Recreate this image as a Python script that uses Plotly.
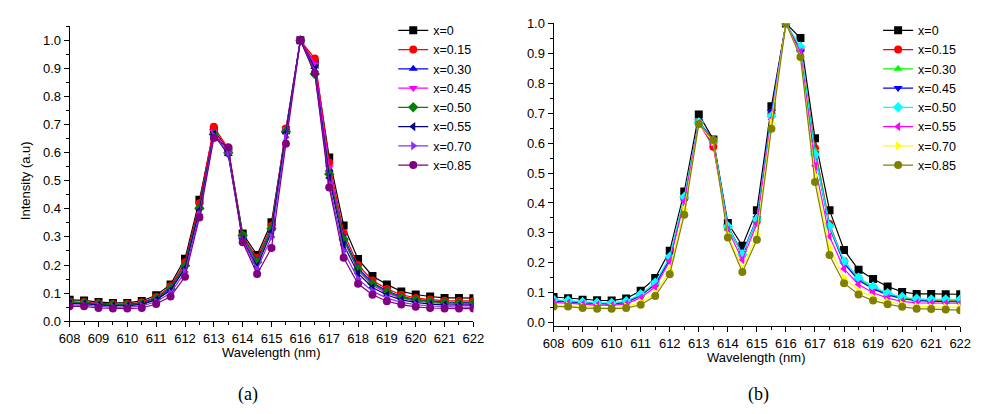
import plotly.graph_objects as go

# Wavelength grid (nm), sampled every 0.5 nm
wavelength = [608.0, 608.5, 609.0, 609.5, 610.0, 610.5, 611.0, 611.5, 612.0, 612.5,
              613.0, 613.5, 614.0, 614.5, 615.0, 615.5, 616.0, 616.5, 617.0, 617.5,
              618.0, 618.5, 619.0, 619.5, 620.0, 620.5, 621.0, 621.5, 622.0]

labels = ["x=0", "x=0.15", "x=0.30", "x=0.45", "x=0.50", "x=0.55", "x=0.70", "x=0.85"]

# Panel (a) normalised intensities
a_x000 = [0.076, 0.074, 0.068, 0.065, 0.065, 0.072, 0.092, 0.131, 0.222, 0.432, 0.680, 0.610, 0.312, 0.236, 0.352,
          0.680, 1.000, 0.920, 0.583, 0.341, 0.221, 0.161, 0.131, 0.106, 0.095, 0.088, 0.083, 0.083, 0.082]
a_x015 = [0.070, 0.068, 0.064, 0.061, 0.061, 0.067, 0.086, 0.124, 0.210, 0.420, 0.692, 0.615, 0.305, 0.225, 0.340,
          0.686, 1.000, 0.935, 0.565, 0.315, 0.200, 0.145, 0.115, 0.094, 0.083, 0.077, 0.073, 0.072, 0.072]
a_x030 = [0.068, 0.066, 0.062, 0.059, 0.059, 0.064, 0.082, 0.118, 0.200, 0.405, 0.670, 0.595, 0.300, 0.215, 0.330,
          0.678, 1.000, 0.907, 0.540, 0.300, 0.190, 0.137, 0.108, 0.088, 0.078, 0.072, 0.068, 0.067, 0.067]
a_x045 = [0.064, 0.063, 0.059, 0.056, 0.056, 0.061, 0.078, 0.112, 0.192, 0.398, 0.675, 0.605, 0.295, 0.205, 0.325,
          0.683, 1.000, 0.915, 0.547, 0.290, 0.180, 0.128, 0.100, 0.082, 0.072, 0.066, 0.062, 0.061, 0.061]
a_x050 = [0.066, 0.065, 0.061, 0.058, 0.058, 0.063, 0.080, 0.115, 0.198, 0.402, 0.665, 0.600, 0.305, 0.210, 0.330,
          0.675, 1.000, 0.880, 0.524, 0.290, 0.185, 0.133, 0.104, 0.085, 0.075, 0.069, 0.065, 0.064, 0.064]
a_x055 = [0.063, 0.062, 0.058, 0.055, 0.055, 0.060, 0.076, 0.110, 0.188, 0.395, 0.665, 0.592, 0.290, 0.195, 0.318,
          0.670, 1.000, 0.900, 0.510, 0.272, 0.170, 0.120, 0.093, 0.076, 0.067, 0.061, 0.058, 0.057, 0.057]
a_x070 = [0.058, 0.057, 0.053, 0.050, 0.050, 0.054, 0.069, 0.100, 0.175, 0.380, 0.660, 0.600, 0.285, 0.185, 0.300,
          0.655, 1.000, 0.890, 0.490, 0.250, 0.150, 0.107, 0.082, 0.067, 0.059, 0.054, 0.051, 0.050, 0.050]
a_x085 = [0.053, 0.053, 0.047, 0.045, 0.045, 0.047, 0.061, 0.088, 0.158, 0.369, 0.652, 0.619, 0.281, 0.168, 0.261,
          0.632, 1.000, 0.884, 0.476, 0.226, 0.133, 0.094, 0.071, 0.059, 0.051, 0.047, 0.045, 0.045, 0.045]

# Panel (b) normalised intensities
b_x000 = [0.086, 0.082, 0.077, 0.075, 0.074, 0.081, 0.107, 0.149, 0.240, 0.438, 0.696, 0.612, 0.333, 0.257, 0.376,
          0.723, 1.000, 0.951, 0.616, 0.376, 0.243, 0.177, 0.146, 0.121, 0.103, 0.096, 0.096, 0.095, 0.095]
b_x015 = [0.074, 0.071, 0.066, 0.064, 0.063, 0.069, 0.092, 0.130, 0.215, 0.415, 0.668, 0.588, 0.318, 0.228, 0.340,
          0.700, 1.000, 0.915, 0.583, 0.330, 0.205, 0.148, 0.118, 0.097, 0.083, 0.077, 0.074, 0.073, 0.073]
b_x030 = [0.075, 0.072, 0.067, 0.065, 0.064, 0.070, 0.093, 0.131, 0.218, 0.418, 0.670, 0.605, 0.320, 0.230, 0.345,
          0.695, 1.000, 0.910, 0.575, 0.325, 0.203, 0.146, 0.117, 0.096, 0.082, 0.076, 0.073, 0.072, 0.072]
b_x045 = [0.073, 0.070, 0.066, 0.063, 0.062, 0.068, 0.090, 0.128, 0.212, 0.412, 0.672, 0.612, 0.322, 0.232, 0.348,
          0.704, 1.000, 0.905, 0.565, 0.318, 0.198, 0.142, 0.113, 0.093, 0.080, 0.074, 0.071, 0.070, 0.070]
b_x050 = [0.077, 0.074, 0.069, 0.067, 0.066, 0.072, 0.095, 0.134, 0.220, 0.420, 0.670, 0.608, 0.322, 0.228, 0.345,
          0.690, 1.000, 0.922, 0.562, 0.322, 0.205, 0.150, 0.121, 0.099, 0.086, 0.080, 0.078, 0.078, 0.078]
b_x055 = [0.068, 0.066, 0.062, 0.059, 0.058, 0.063, 0.083, 0.120, 0.205, 0.405, 0.665, 0.595, 0.310, 0.210, 0.330,
          0.680, 1.000, 0.905, 0.524, 0.288, 0.180, 0.128, 0.100, 0.082, 0.071, 0.066, 0.065, 0.065, 0.065]
b_x070 = [0.058, 0.057, 0.053, 0.051, 0.050, 0.054, 0.068, 0.098, 0.175, 0.378, 0.662, 0.605, 0.295, 0.180, 0.295,
          0.669, 1.000, 0.890, 0.492, 0.250, 0.150, 0.108, 0.085, 0.070, 0.061, 0.055, 0.053, 0.052, 0.052]
b_x085 = [0.054, 0.054, 0.049, 0.047, 0.047, 0.049, 0.060, 0.089, 0.162, 0.361, 0.664, 0.610, 0.285, 0.169, 0.277,
          0.648, 1.000, 0.888, 0.470, 0.226, 0.132, 0.094, 0.074, 0.062, 0.053, 0.047, 0.046, 0.044, 0.042]

panel_a = [a_x000, a_x015, a_x030, a_x045, a_x050, a_x055, a_x070, a_x085]
panel_b = [b_x000, b_x015, b_x030, b_x045, b_x050, b_x055, b_x070, b_x085]

colors_a = ["#000000", "#ff0000", "#0000ff", "#ff00ff", "#008000", "#000080", "#8b2cff", "#800080"]
colors_b = ["#000000", "#ff0000", "#00ff00", "#0000ff", "#00ffff", "#ff00ff", "#ffff00", "#808000"]
symbols = ["square", "circle", "triangle-up", "triangle-down", "diamond", "triangle-left", "triangle-right", "circle"]

W, H = 981, 414
FONT = "Liberation Sans, Arial, sans-serif"
SERIF = "Liberation Serif, Times New Roman, serif"


def px(x):
    return x / W


def py(y):
    return 1 - y / H


fig = go.Figure()

for i, ys in enumerate(panel_a):
    fig.add_trace(go.Scatter(
        x=wavelength, y=ys, name=labels[i], mode="lines+markers",
        line=dict(color=colors_a[i], width=1.2),
        marker=dict(symbol=symbols[i], size=8, color=colors_a[i]),
        xaxis="x", yaxis="y", legend="legend"))

for i, ys in enumerate(panel_b):
    fig.add_trace(go.Scatter(
        x=wavelength, y=ys, name=labels[i], mode="lines+markers",
        line=dict(color=colors_b[i], width=1.2),
        marker=dict(symbol=symbols[i], size=8, color=colors_b[i]),
        xaxis="x2", yaxis="y2", legend="legend2"))

tickfont = dict(family=FONT, size=13, color="#000000")


def xaxis_style(domain, anchor):
    return dict(domain=domain, anchor=anchor, range=[608, 622], dtick=1, tick0=608,
                showline=True, linecolor="#000000", linewidth=1, mirror=False,
                ticks="outside", ticklen=5, tickwidth=1, tickcolor="#000000",
                minor=dict(ticks="outside", ticklen=3, dtick=0.5, tickcolor="#000000"),
                showgrid=False, zeroline=False, tickfont=tickfont)


def yaxis_style(domain, anchor, rng):
    return dict(domain=domain, anchor=anchor, range=rng, dtick=0.1, tick0=0, tickformat=".1f",
                showline=True, linecolor="#000000", linewidth=1, mirror=False,
                ticks="outside", ticklen=5, tickwidth=1, tickcolor="#000000",
                minor=dict(ticks="outside", ticklen=3, dtick=0.05, tickcolor="#000000"),
                showgrid=False, zeroline=False, tickfont=tickfont)


def text(t, x, y, size=13, family=FONT, angle=0):
    return dict(text=t, x=px(x), y=py(y), xref="paper", yref="paper", showarrow=False,
                xanchor="center", yanchor="middle", textangle=angle,
                font=dict(family=family, size=size, color="#000000"))


legend_common = dict(yanchor="top", xanchor="left", bgcolor="rgba(0,0,0,0)",
                     font=dict(family=FONT, size=12.5, color="#000000"),
                     itemwidth=30, tracegroupgap=0)

fig.update_layout(
    width=W, height=H,
    margin=dict(l=0, r=0, t=0, b=0),
    paper_bgcolor="#ffffff", plot_bgcolor="#ffffff",
    font=dict(family=FONT, size=13, color="#000000"),
    xaxis=xaxis_style([px(60), px(473)], "y"),
    yaxis=yaxis_style([py(326), py(20)], "x", [0, 1.05]),
    xaxis2=xaxis_style([px(555), px(971)], "y2"),
    yaxis2=yaxis_style([py(331), py(17)], "x2", [-0.011, 1.0]),
    legend=dict(x=px(391), y=py(9), **legend_common),
    legend2=dict(x=px(887), y=py(9), **legend_common),
    annotations=[
        text("Wavelength (nm)", 266, 358),
        text("Wavelength (nm)", 763, 364),
        text("Intensity (a.u)", 15, 180, angle=-90),
        text("(a)", 242, 402, size=18, family=SERIF),
        text("(b)", 765, 402, size=18, family=SERIF),
    ],
)

fig.write_html("out.html")
